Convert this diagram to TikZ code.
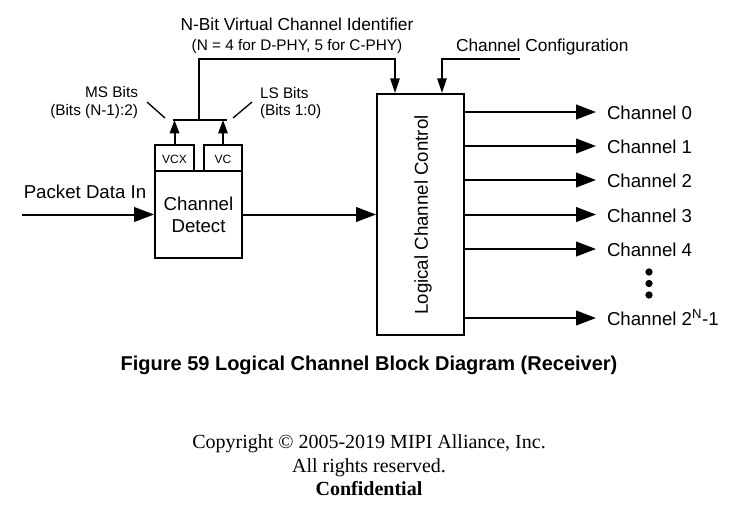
\documentclass[tikz,border=0pt]{standalone}
\usepackage{fontspec}
\setmainfont{Liberation Sans}
\newfontfamily\serifmain{Liberation Serif}
\usetikzlibrary{arrows.meta}
\begin{document}
\begin{tikzpicture}[x=0.75pt,y=-0.75pt,line width=1.5pt,
  box/.style={draw,line width=1.5pt,inner sep=0pt,align=center},
  arr/.style={-{Triangle[length=15pt,width=11pt]}},
  arrs/.style={-{Triangle[length=10pt,width=7pt]}},
  arrd/.style={-{Triangle[length=11pt,width=7pt]}},
  slash/.style={line width=1pt},
  lbl/.style={inner sep=0pt,anchor=base},
  big/.style={font=\fontsize{14pt}{17pt}\selectfont},
  med/.style={font=\fontsize{13pt}{15pt}\selectfont},
  sml/.style={font=\fontsize{11.5pt}{13pt}\selectfont},
  tiny/.style={font=\fontsize{9pt}{10pt}\selectfont},
  chlbl/.style={inner sep=0pt,anchor=base west,big},
  dot/.style={fill=black,circle,inner sep=0pt,minimum size=5.5pt}
]
\useasboundingbox (0,0) rectangle (745,507);

% boxes
\node[box,minimum width=65.25pt,minimum height=65.25pt] (det) at (198.5,214.5) {};
\node[box,minimum width=29.25pt,minimum height=19.5pt] (vcx) at (174.5,158) {};
\node[box,minimum width=28.5pt,minimum height=19.5pt] (vc) at (223,158) {};
\node[box,minimum width=65.25pt,minimum height=180.75pt] (lcc) at (420.5,214.5) {};

% box texts
\node[lbl,big] (dt1) at (198.5,210) {Channel};
\node[lbl,big] (dt2) at (198.5,232) {Detect};
\node[lbl,tiny] (vcxt) at (174.5,163) {VCX};
\node[lbl,tiny] (vct) at (223,163) {VC};
\node[big,rotate=90,inner sep=0pt] (lcct) at (423,215) {Logical Channel Control};

% input
\coordinate (pin) at (22,214.5);
\node[lbl,big] (pdt) at (85,198) {Packet Data In};
\draw[arr] (pin) -- (det.west);
\draw[arr] (det.east) -- (lcc.west);

% VC bits bar
\coordinate (barL) at (173,120);
\coordinate (barR) at (227,120);
\coordinate (barM) at (199,120);
\draw (barL) -- (barR);
\draw[arrs] (vcx.north) -- (vcx.north |- barL);
\draw[arrs] (vc.north) -- (vc.north |- barL);
\coordinate (vid) at (395,59);
\draw[arrd] (barM) |- (vid) -- (vid |- lcc.north);
\coordinate (cfgS) at (520,59);
\coordinate (cfgC) at (442,59);
\draw[arrd] (cfgS) -- (cfgC) -- (cfgC |- lcc.north);

% slashes
\coordinate (ms1) at (147,102); \coordinate (ms2) at (165,118);
\coordinate (ls1) at (233,118); \coordinate (ls2) at (252,102);
\draw[slash] (ms1) -- (ms2);
\draw[slash] (ls1) -- (ls2);

% top labels
\node[lbl,med] (vidt1) at (297,30) {N-Bit Virtual Channel Identifier};
\node[lbl,sml] (vidt2) at (297,50) {(N = 4 for D-PHY, 5 for C-PHY)};
\node[lbl,med,anchor=base west] (cfgt) at (455,51) {Channel Configuration};
\node[lbl,sml,anchor=base east] (ms1t) at (139,97) {MS Bits};
\node[lbl,sml,anchor=base east] (ms2t) at (139,115) {(Bits (N-1):2)};
\node[lbl,sml,anchor=base west] (ls1t) at (259,98) {LS Bits};
\node[lbl,sml,anchor=base west] (ls2t) at (259,115) {(Bits 1:0)};

% outputs
\foreach \i/\y/\t in {0/112/Channel 0,1/146/Channel 1,2/180/Channel 2,3/214.5/Channel 3,4/249/Channel 4,5/318/{Channel 2\textsuperscript{N}-1}}{
  \coordinate (a\i) at (596,\y);
  \node[chlbl] (ch\i) at (606,\y+7.5) {\t};
  \draw[arr] (lcc.east |- a\i) -- (a\i);
}
\node[dot] (d1) at (649,272) {};
\node[dot] (d2) at (649,283.5) {};
\node[dot] (d3) at (649,295) {};

% caption
\node[lbl,font=\fontsize{15pt}{17pt}\selectfont\bfseries] (cap) at (369,370) {Figure 59 Logical Channel Block Diagram (Receiver)};
\node[lbl,font=\fontsize{15pt}{17pt}\selectfont\serifmain] (cp1) at (369,448) {Copyright © 2005-2019 MIPI Alliance, Inc.};
\node[lbl,font=\fontsize{15pt}{17pt}\selectfont\serifmain] (cp2) at (369,472) {All rights reserved.};
\node[lbl,font=\fontsize{15pt}{17pt}\selectfont\serifmain\bfseries] (cp3) at (369,495) {Confidential};
\end{tikzpicture}
\end{document}
